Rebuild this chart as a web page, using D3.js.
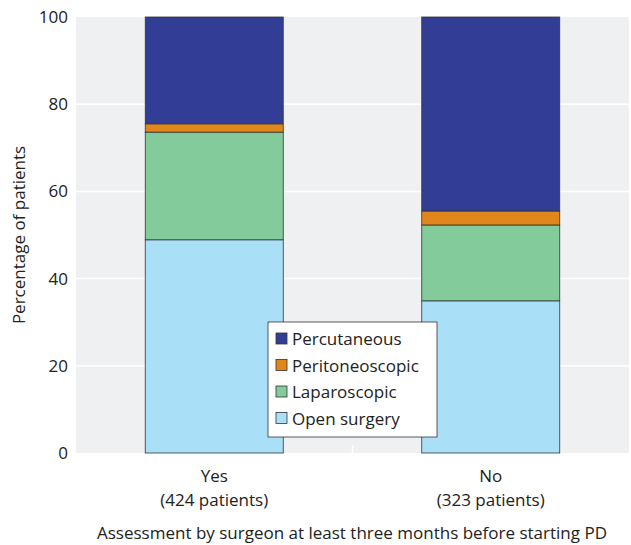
<!DOCTYPE html><html><head><meta charset="utf-8"><script src="https://cdn.jsdelivr.net/npm/d3@7"></script>
<style>body{margin:0;background:#fff}text{font-family:"Open Sans","Noto Sans",sans-serif}</style></head><body><svg id="c" width="631" height="545"></svg><script>
const categories=["Yes","No"];
const catLabels=[["Yes","(424 patients)"],["No","(323 patients)"]];
const series=["Open surgery","Laparoscopic","Peritoneoscopic","Percutaneous"];
const colors=["#aadff8","#83cb9b","#e0861a","#323e96"];
const openSurgery=[48.9,34.9];
const laparoscopic=[24.7,17.4];
const peritoneoscopic=[1.9,3.2];
const percutaneous=[24.5,44.5];
const yTicks=[0,20,40,60,80,100];
const vals=[openSurgery,laparoscopic,peritoneoscopic,percutaneous];
const svg=d3.select("#c");
const L=76,R=629,T=17,B=453,FS=17;
const y=d3.scaleLinear().domain([0,100]).range([B,T]);
const x=d3.scaleBand().domain(categories).range([L,R]);
svg.append("rect").attr("x",L).attr("y",T).attr("width",R-L).attr("height",B-T).attr("fill","#eff0f2");
yTicks.slice(1,5).forEach(t=>svg.append("line").attr("x1",L).attr("x2",R).attr("y1",y(t)).attr("y2",y(t)).attr("stroke","#fff").attr("stroke-width",1.5));
svg.append("line").attr("x1",x("No")).attr("x2",x("No")).attr("y1",B-8).attr("y2",B).attr("stroke","#fff").attr("stroke-width",1.5);
const bw=138;
const data=categories.map((c,i)=>{const o={cat:c};series.forEach((s,j)=>o[s]=vals[j][i]);return o;});
const stack=d3.stack().keys(series)(data);
stack.forEach((layer,j)=>{svg.selectAll(null).data(layer).enter().append("rect")
 .attr("x",d=>x(d.data.cat)+x.bandwidth()/2-bw/2).attr("width",bw)
 .attr("y",d=>y(Math.min(d[1],100))).attr("height",d=>y(d[0])-y(Math.min(d[1],100)))
 .attr("fill",colors[j]).attr("stroke","#333").attr("stroke-width",0.8);});
const ax=svg.append("g").attr("transform",`translate(${L},0)`).call(d3.axisLeft(y).tickValues(yTicks).tickSize(0).tickPadding(8));
ax.select(".domain").remove();ax.selectAll("text").attr("font-size",FS).attr("fill","#222");
categories.forEach((c,i)=>{const cx=x(c)+x.bandwidth()/2;
 catLabels[i].forEach((t,k)=>svg.append("text").attr("x",cx).attr("y",482+k*24).attr("text-anchor","middle").attr("font-size",FS).attr("fill","#222").text(t));});
svg.append("text").attr("x",352).attr("y",539).attr("text-anchor","middle").attr("font-size",FS).attr("fill","#222").text("Assessment by surgeon at least three months before starting PD");
svg.append("text").attr("transform","translate(25,235) rotate(-90)").attr("text-anchor","middle").attr("font-size",FS).attr("fill","#222").text("Percentage of patients");
const lg=svg.append("g").attr("transform","translate(268,322)");
lg.append("rect").attr("width",169).attr("height",115).attr("fill","#fff").attr("stroke","#333").attr("stroke-width",0.8);
series.slice().reverse().forEach((s,k)=>{const j=3-k;
 lg.append("rect").attr("x",8).attr("y",11+k*26.5).attr("width",11).attr("height",11).attr("fill",colors[j]).attr("stroke","#333").attr("stroke-width",0.8);
 lg.append("text").attr("x",24).attr("y",23+k*26.5).attr("font-size",FS).attr("fill","#222").text(s);});
</script></body></html>
